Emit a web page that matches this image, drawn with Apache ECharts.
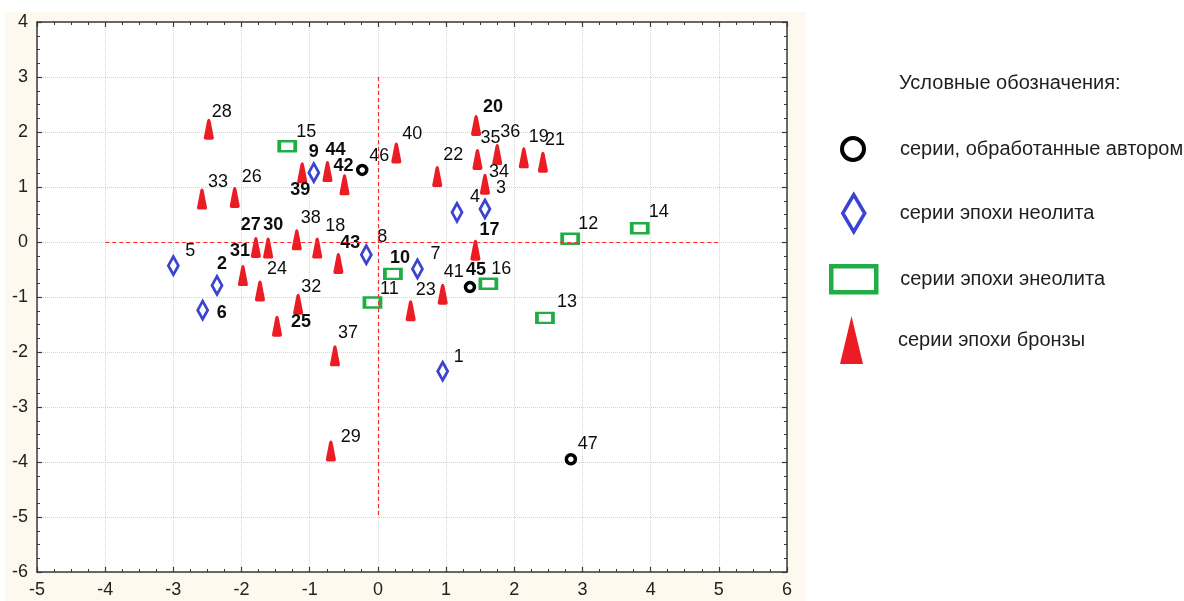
<!DOCTYPE html>
<html>
<head>
<meta charset="utf-8">
<script src="https://cdn.jsdelivr.net/npm/echarts@6/dist/echarts.min.js"></script>
<style>
  html, body { margin: 0; padding: 0; background: #ffffff; }
  #chart { width: 1184px; height: 601px; }
</style>
</head>
<body>
<div id="chart"></div>
<script>
// Series scores: [label, x, y]
const author = [['45', 1.35, -0.82], ['46', -0.23, 1.31], ['47', 2.83, -3.95]];
const neolithic = [
  ['1', 0.95, -2.35], ['2', -2.36, -0.79], ['3', 1.57, 0.60], ['4', 1.16, 0.54],
  ['5', -3.00, -0.43], ['6', -2.57, -1.24], ['7', 0.58, -0.49], ['8', -0.17, -0.23],
  ['9', -0.94, 1.26]
];
const eneolithic = [
  ['10', 0.22, -0.58], ['11', -0.08, -1.10], ['12', 2.82, 0.06], ['13', 2.45, -1.38],
  ['14', 3.84, 0.25], ['15', -1.33, 1.74], ['16', 1.62, -0.76]
];
const bronze = [
  ['17', 1.43, -0.15], ['18', -0.89, -0.11], ['19', 2.14, 1.53], ['20', 1.44, 2.12],
  ['21', 2.42, 1.45], ['22', 0.87, 1.19], ['23', 0.48, -1.25], ['24', -1.73, -0.89],
  ['25', -1.48, -1.53], ['26', -2.10, 0.81], ['27', -1.79, -0.10], ['28', -2.48, 2.05],
  ['29', -0.69, -3.80], ['30', -1.61, -0.11], ['31', -1.98, -0.61], ['32', -1.17, -1.13],
  ['33', -2.58, 0.78], ['34', 1.57, 1.05], ['35', 1.46, 1.50], ['36', 1.75, 1.59],
  ['37', -0.63, -2.07], ['38', -1.19, 0.04], ['39', -1.11, 1.26], ['40', 0.27, 1.62],
  ['41', 0.95, -0.95], ['42', -0.49, 1.04], ['43', -0.58, -0.39], ['44', -0.74, 1.28]
];

// Dashed red guide lines through the origin
const guideLines = [[[-4, 0], [5, 0]], [[0, 3], [0, -5]]];

const seriesNames = [
  'серии, обработанные автором',
  'серии эпохи неолита',
  'серии эпохи энеолита',
  'серии эпохи бронзы'
];
const legendTitle = 'Условные обозначения:';

// Where each point label sits relative to its marker (px)
const labelShift = {
  '1': [16, -14], '2': [5, -21], '3': [16, -21], '4': [18, -15], '5': [17, -15], '6': [19, 3],
  '7': [18, -15], '8': [16, -18], '9': [0, -21], '10': [7, -16], '11': [17, -13], '12': [18, -15],
  '13': [22, -16], '14': [19, -16], '15': [19, -14], '16': [13, -15], '17': [14, -20], '18': [18, -22],
  '19': [15, -21], '20': [17, -18], '21': [12, -22], '22': [16, -22], '23': [15, -21], '24': [17, -22],
  '25': [24, -4], '26': [17, -20], '27': [-5, -22], '28': [13, -17], '29': [20, -14], '30': [5, -23],
  '31': [-3, -25], '32': [13, -17], '33': [16, -17], '34': [14, -12], '35': [13, -21], '36': [13, -23],
  '37': [13, -23], '38': [14, -22], '39': [-2, 17], '40': [16, -19], '41': [11, -22], '42': [-1, -19],
  '43': [12, -20], '44': [8, -22], '45': [6, -17], '46': [17, -14], '47': [17, -15]
};
const boldLabels = ['20', '44', '42', '39', '9', '27', '30', '31', '2', '6', '25', '10', '17', '45', '43'];

const FONT = '"Liberation Sans", Arial, sans-serif';
const bulletPath = 'path://M5,0 C6.2,0 6.6,1.5 6.9,3 L10,19.5 C10.3,21.2 9.5,22 8,22 L2,22 C0.5,22 -0.3,21.2 0,19.5 L3.1,3 C3.4,1.5 3.8,0 5,0 Z';

function toData(rows) {
  return rows.map(function (r) {
    return {
      name: r[0],
      value: [r[1], r[2]],
      label: {
        offset: labelShift[r[0]] || [14, -18],
        fontWeight: boldLabels.indexOf(r[0]) >= 0 ? 'bold' : 'normal'
      }
    };
  });
}

const pointLabel = {
  show: true,
  position: 'inside',
  formatter: '{b}',
  fontSize: 18,
  fontFamily: FONT,
  color: '#0d0d0d'
};

function valueAxis(pos, min, max, showLabels) {
  return {
    type: 'value',
    position: pos,
    min: min,
    max: max,
    interval: 1,
    axisLine: { show: true, onZero: false, lineStyle: { color: '#3a3a3a', width: 1.5 } },
    axisTick: { show: true, inside: true, length: 5, lineStyle: { color: '#3a3a3a', width: 1.2 } },
    minorTick: { show: true, splitNumber: 4, length: 3, lineStyle: { color: '#3a3a3a', width: 1 } },
    splitLine: { show: showLabels, lineStyle: { color: '#d4d4d4', type: 'dotted', width: 1 } },
    minorSplitLine: { show: false },
    axisLabel: {
      show: showLabels,
      fontSize: 18,
      fontFamily: FONT,
      color: '#222222',
      margin: 9
    }
  };
}

const chart = echarts.init(document.getElementById('chart'), null, { renderer: 'canvas' });

const legendText = { fontSize: 20, fontFamily: FONT, color: '#1e1e1e' };

const option = {
  backgroundColor: '#ffffff',
  animation: false,
  graphic: [{
    type: 'rect',
    z: -10,
    silent: true,
    shape: { x: 5, y: 12, width: 801, height: 589 },
    style: { fill: '#fdf9ee' }
  }],
  title: {
    text: legendTitle,
    left: 899,
    top: 73,
    padding: 0,
    textStyle: { fontSize: 20, fontWeight: 'normal', fontFamily: FONT, color: '#1e1e1e' }
  },
  grid: {
    left: 37, top: 22, width: 750, height: 550,
    show: true, backgroundColor: '#ffffff', borderWidth: 0
  },
  xAxis: [valueAxis('bottom', -5, 6, true), valueAxis('top', -5, 6, false)],
  yAxis: [valueAxis('left', -6, 4, true), valueAxis('right', -6, 4, false)],
  legend: [
    {
      data: [seriesNames[0]], left: 840, top: 136, padding: 0, selectedMode: false,
      itemWidth: 22, itemHeight: 22, icon: 'circle',
      itemStyle: { color: '#ffffff', borderColor: '#000000', borderWidth: 4 },
      textStyle: Object.assign({ padding: [0, 0, 0, 31] }, legendText)
    },
    {
      data: [seriesNames[1]], left: 841, top: 193, padding: 0, selectedMode: false,
      itemWidth: 22, itemHeight: 37, icon: 'diamond',
      itemStyle: { color: '#ffffff', borderColor: '#3b44cf', borderWidth: 3.5 },
      textStyle: Object.assign({ padding: [0, 0, 0, 30] }, legendText)
    },
    {
      data: [seriesNames[2]], left: 829, top: 264, padding: 0, selectedMode: false,
      itemWidth: 45, itemHeight: 26, icon: 'rect',
      itemStyle: { color: '#ffffff', borderColor: '#21ad45', borderWidth: 4.5 },
      textStyle: Object.assign({ padding: [0, 0, 0, 19] }, legendText)
    },
    {
      data: [seriesNames[3]], left: 840, top: 316, padding: 0, selectedMode: false,
      itemWidth: 23, itemHeight: 48, icon: 'triangle',
      itemStyle: { color: '#ec1c24', borderWidth: 0 },
      textStyle: Object.assign({ padding: [0, 0, 0, 30] }, legendText)
    }
  ],
  series: [
    {
      name: 'guides',
      type: 'scatter',
      data: [],
      z: 1,
      silent: true,
      markLine: {
        silent: true,
        symbol: 'none',
        label: { show: false },
        lineStyle: { color: '#ff2b2b', type: [4, 3], width: 1.2 },
        data: guideLines.map(function (seg) {
          return [{ coord: seg[0] }, { coord: seg[1] }];
        })
      }
    },
    {
      name: seriesNames[3],
      type: 'scatter',
      z: 3,
      symbol: bulletPath,
      symbolSize: [10, 21],
      itemStyle: { color: '#ec1c24', opacity: 1 },
      label: pointLabel,
      data: toData(bronze)
    },
    {
      name: seriesNames[2],
      type: 'scatter',
      z: 4,
      symbol: 'rect',
      symbolSize: [16, 10],
      itemStyle: { color: '#ffffff', borderColor: '#21ad45', borderWidth: 3, opacity: 1 },
      label: pointLabel,
      data: toData(eneolithic)
    },
    {
      name: seriesNames[1],
      type: 'scatter',
      z: 4,
      symbol: 'diamond',
      symbolSize: [10, 18],
      itemStyle: { color: '#ffffff', borderColor: '#3b44cf', borderWidth: 3, opacity: 1 },
      label: pointLabel,
      data: toData(neolithic)
    },
    {
      name: seriesNames[0],
      type: 'scatter',
      z: 4,
      symbol: 'circle',
      symbolSize: 9,
      itemStyle: { color: '#ffffff', borderColor: '#000000', borderWidth: 3.5, opacity: 1 },
      label: pointLabel,
      data: toData(author)
    }
  ]
};

chart.setOption(option);
</script>
</body>
</html>
